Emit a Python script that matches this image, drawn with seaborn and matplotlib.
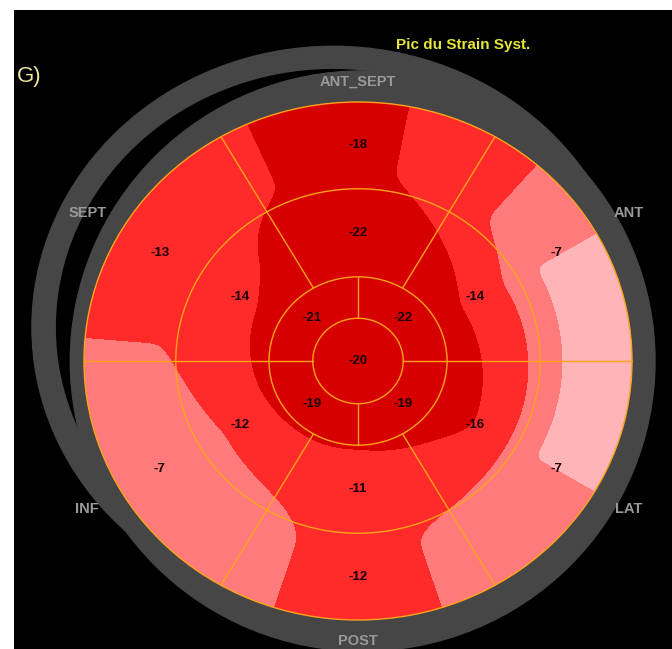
import numpy as np
import matplotlib
matplotlib.use("Agg")
import matplotlib.pyplot as plt
from matplotlib.patches import Ellipse
import seaborn as sns

# ---------------- data ----------------
# six basal / mid walls, listed clockwise starting from the top (12 o'clock)
walls = ["ANT_SEPT", "ANT", "LAT", "POST", "INF", "SEPT"]
basal_strain = [-18, -7, -7, -12, -7, -13]
mid_strain = [-22, -14, -16, -11, -12, -14]
# four apical segments, clockwise starting upper right
apical_strain = [-22, -19, -19, -21]
apex_strain = -20

title_text = "Pic du Strain Syst."
panel_tag = "G)"

# strain classes (%), from most to least negative
strain_edges = [-40, -16, -10.5, -7.05, 0]
class_colors = ["#d60000", "#ff2b2b", "#ff7b7b", "#ffb4b8"]

# ---------------- style ----------------
sns.set_theme(style="dark")
plt.rcParams["font.family"] = ["Liberation Sans", "DejaVu Sans"]

fill_palette = sns.color_palette(class_colors)
ring_gray = "#464646"
grid_orange = "#ffa31a"
wall_gray = "#999999"

# segment centre angles (degrees, counter-clockwise from 3 o'clock)
wall_angles = [(90 - 60 * i) % 360 for i in range(len(walls))]
apical_angles = [(45 - 90 * i) % 360 for i in range(len(apical_strain))]


def ring_profile(theta_deg, angles, values):
    """Periodic linear interpolation of segment values around a ring."""
    a = np.asarray(angles, float)
    v = np.asarray(values, float)
    order = np.argsort(a)
    a, v = a[order], v[order]
    a_ext = np.concatenate([a - 360, a, a + 360])
    v_ext = np.concatenate([v, v, v])
    return np.interp(np.mod(theta_deg, 360), a_ext, v_ext)


def gaussian_smooth(z, sigma_px):
    half = int(3 * sigma_px)
    k = np.exp(-0.5 * (np.arange(-half, half + 1) / sigma_px) ** 2)
    k /= k.sum()
    zp = np.pad(z, half, mode="edge")
    zp = np.apply_along_axis(lambda row: np.convolve(row, k, mode="valid"), 1, zp)
    zp = np.apply_along_axis(lambda col: np.convolve(col, k, mode="valid"), 0, zp)
    return zp


# ---------------- strain field over the bull's-eye ----------------
g = np.linspace(-1.05, 1.05, 701)
X, Y = np.meshgrid(g, g)
Rg = np.hypot(X, Y)
Tg = np.degrees(np.arctan2(Y, X))
knot_r = np.array([0.0, 0.25, 0.5, 0.72])
rings = np.stack([
    np.full_like(Tg, float(apex_strain)),
    ring_profile(Tg, apical_angles, apical_strain),
    ring_profile(Tg, wall_angles, mid_strain),
    ring_profile(Tg, wall_angles, basal_strain),
])
rc = np.clip(Rg, 0, knot_r[-1])
idx = np.clip(np.searchsorted(knot_r, rc, side="right") - 1, 0, len(knot_r) - 2)
r0, r1 = knot_r[idx], knot_r[idx + 1]
w = (rc - r0) / (r1 - r0)
z0 = np.take_along_axis(rings, idx[None], 0)[0]
z1 = np.take_along_axis(rings, (idx + 1)[None], 0)[0]
Z = gaussian_smooth(z0 + w * (z1 - z0), 8)

# ---------------- figure ----------------
W, H = 672, 649
fig = plt.figure(figsize=(W / 100, H / 100), dpi=100, facecolor="white")
left, top = 14, 10
ax = fig.add_axes([left / W, 0, (W - left) / W, (H - top) / H])
ax.set_facecolor("black")
cx, cy, rx, ry = 358, 361, 274, 259
ax.set_xlim((left - cx) / rx, (W - cx) / rx)
ax.set_ylim((cy - H) / ry, (cy - top) / ry)
ax.set_xticks([])
ax.set_yticks([])
ax.grid(False)
for sp in ax.spines.values():
    sp.set_visible(False)

# gray frame: a displaced ghost ring behind the main one
ax.add_patch(Ellipse((-0.09, 0.13), 2.20, 2.17, color=ring_gray, zorder=1))
ax.add_patch(Ellipse((-0.09, 0.13), 2.02, 1.99, color="black", zorder=1.1))
ax.add_patch(Ellipse((0.017, 0), 2.134, 2.24, color=ring_gray, zorder=1.2))

# filled strain classes, clipped to the disc
cs = ax.contourf(X, Y, Z, levels=strain_edges, colors=fill_palette, zorder=2)
cs.set_clip_path(Ellipse((0, 0), 2, 2, transform=ax.transData))

# segment grid
lw = 1.0
for rr in [0.165, 0.325, 0.665, 1.0]:
    ax.add_patch(Ellipse((0, 0), 2 * rr, 2 * rr, fill=False, ec=grid_orange,
                         lw=lw, zorder=3))
ax.plot([-1, -0.165], [0, 0], color=grid_orange, lw=lw, zorder=3)
ax.plot([0.165, 1], [0, 0], color=grid_orange, lw=lw, zorder=3)
ax.plot([0, 0], [0.165, 0.325], color=grid_orange, lw=lw, zorder=3)
ax.plot([0, 0], [-0.165, -0.325], color=grid_orange, lw=lw, zorder=3)
for ang in [60, 120, 240, 300]:
    a = np.radians(ang)
    ax.plot([0.325 * np.cos(a), np.cos(a)], [0.325 * np.sin(a), np.sin(a)],
            color=grid_orange, lw=lw, zorder=3)

# value labels
val_kw = dict(ha="center", va="center", fontsize=9.5, fontweight="bold",
              color="#1a0000", zorder=4)
for ang, b, m in zip(wall_angles, basal_strain, mid_strain):
    a = np.radians(ang)
    ax.text(0.835 * np.cos(a), 0.835 * np.sin(a), f"{b}", **val_kw)
    ax.text(0.495 * np.cos(a), 0.495 * np.sin(a), f"{m}", **val_kw)
for ang, v in zip(apical_angles, apical_strain):
    a = np.radians(ang)
    ax.text(0.235 * np.cos(a), 0.235 * np.sin(a), f"{v}", **val_kw)
ax.text(0, 0, f"{apex_strain}", **val_kw)

# wall names on the frame
for ang, name in zip(wall_angles, walls):
    a = np.radians(ang)
    rl = 1.08 + 0.07 * abs(np.cos(a))
    ax.text(rl * np.cos(a), rl * np.sin(a), name, ha="center", va="center",
            fontsize=10.5, fontweight="bold", color=wall_gray, zorder=4)

# headings
ax.text(0.383, 1.22, title_text, ha="center", va="center", fontsize=11,
        fontweight="bold", color="#e6e63a", zorder=4)
ax.text(-1.245, 1.10, panel_tag, ha="left", va="center", fontsize=16,
        color="#efe6a0", zorder=4)

fig.savefig("out.png", dpi=100, facecolor="white")
